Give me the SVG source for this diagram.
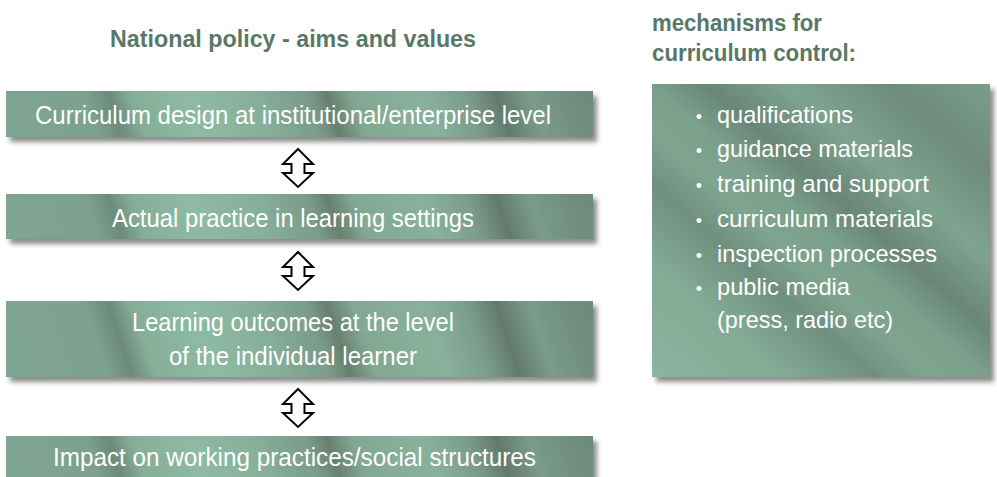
<svg xmlns="http://www.w3.org/2000/svg" width="997" height="477" viewBox="0 0 997 477">
  <defs>
    <linearGradient id="gBar" gradientUnits="userSpaceOnUse" x1="0" y1="0" x2="587" y2="-196">
      <stop offset="0" stop-color="#7ea591"/>
      <stop offset="0.12" stop-color="#7ca28e"/>
      <stop offset="0.155" stop-color="#6d8a7a"/>
      <stop offset="0.19" stop-color="#84ae98"/>
      <stop offset="0.28" stop-color="#8ebaa3"/>
      <stop offset="0.38" stop-color="#86af99"/>
      <stop offset="0.46" stop-color="#7a9b89"/>
      <stop offset="0.49" stop-color="#67806f"/>
      <stop offset="0.53" stop-color="#82a893"/>
      <stop offset="0.64" stop-color="#88b19c"/>
      <stop offset="0.705" stop-color="#7b9c8b"/>
      <stop offset="0.75" stop-color="#627a6c"/>
      <stop offset="0.8" stop-color="#7a9c89"/>
      <stop offset="0.86" stop-color="#718e7e"/>
      <stop offset="0.91" stop-color="#6c8878"/>
      <stop offset="1" stop-color="#6c8878"/>
    </linearGradient>
    <linearGradient id="gPanel" x1="0" y1="1" x2="1" y2="0">
      <stop offset="0" stop-color="#8ab59f"/>
      <stop offset="0.2" stop-color="#82aa95"/>
      <stop offset="0.33" stop-color="#70907f"/>
      <stop offset="0.42" stop-color="#7fa590"/>
      <stop offset="0.5" stop-color="#7a9f8b"/>
      <stop offset="0.58" stop-color="#6a8676"/>
      <stop offset="0.7" stop-color="#7ea490"/>
      <stop offset="0.85" stop-color="#6e8b7b"/>
      <stop offset="1" stop-color="#7a9e8a"/>
    </linearGradient>
    <filter id="shadow" x="-5%" y="-20%" width="115%" height="160%">
      <feDropShadow dx="4" dy="5" stdDeviation="2.5" flood-color="#000" flood-opacity="0.45"/>
    </filter>
  </defs>
  <style>
    .head { font-family: "Liberation Sans Narrow", "Liberation Sans", Arial, sans-serif; font-weight: bold; fill: #587867; font-size: 23px; }
    .bar { fill: url(#gBar); filter: url(#shadow); }
    .panel { fill: url(#gPanel); filter: url(#shadow); }
    .lbl { font-family: "Liberation Sans Narrow", "Liberation Sans", Arial, sans-serif; fill: #ffffff; font-size: 26px; text-anchor: middle; }
    .li { font-family: "Liberation Sans Narrow", "Liberation Sans", Arial, sans-serif; fill: #ffffff; font-size: 24px; }
    .bul { font-family: "Liberation Sans", Arial, sans-serif; fill: #ffffff; font-size: 18px; text-anchor: middle; }
    .arrow { fill: #ffffff; stroke: #000000; stroke-width: 2; stroke-linejoin: miter; }
  </style>
  <rect width="997" height="477" fill="#ffffff"/>

  <g id="title">
    <text class="head" x="293" y="47" text-anchor="middle" textLength="366" lengthAdjust="spacingAndGlyphs">National policy - aims and values</text>
  </g>

  <g id="node-design">
    <g transform="translate(6,91)">
      <rect class="bar" x="0" y="0" width="587" height="46"/>
    </g>
    <text class="lbl" x="293" y="124" textLength="516" lengthAdjust="spacingAndGlyphs">Curriculum design at institutional/enterprise level</text>
  </g>

  <g id="node-practice">
    <g transform="translate(6,194)">
      <rect class="bar" x="0" y="0" width="587" height="45"/>
    </g>
    <text class="lbl" x="293" y="227" textLength="362" lengthAdjust="spacingAndGlyphs">Actual practice in learning settings</text>
  </g>

  <g id="node-outcomes">
    <g transform="translate(6,301)">
      <rect class="bar" x="0" y="0" width="587" height="76"/>
    </g>
    <text class="lbl" x="293" y="331" textLength="322" lengthAdjust="spacingAndGlyphs">Learning outcomes at the level</text>
    <text class="lbl" x="293" y="365" textLength="248" lengthAdjust="spacingAndGlyphs">of the individual learner</text>
  </g>

  <g id="node-impact">
    <g transform="translate(6,436)">
      <rect class="bar" x="0" y="0" width="587" height="46"/>
    </g>
    <text class="lbl" x="294.5" y="466" textLength="483" lengthAdjust="spacingAndGlyphs">Impact on working practices/social structures</text>
  </g>

  <g id="node-mechanisms">
    <text class="head" x="652" y="31" textLength="170" lengthAdjust="spacingAndGlyphs">mechanisms for</text>
    <text class="head" x="652" y="61" textLength="204" lengthAdjust="spacingAndGlyphs">curriculum control:</text>
    <rect class="panel" x="652" y="84" width="338" height="293"/>
    <text class="bul" x="699" y="123">•</text>
    <text class="li" x="717" y="123" textLength="136" lengthAdjust="spacingAndGlyphs">qualifications</text>
    <text class="bul" x="699" y="157">•</text>
    <text class="li" x="717" y="157" textLength="196" lengthAdjust="spacingAndGlyphs">guidance materials</text>
    <text class="bul" x="699" y="192">•</text>
    <text class="li" x="717" y="192" textLength="212" lengthAdjust="spacingAndGlyphs">training and support</text>
    <text class="bul" x="699" y="227">•</text>
    <text class="li" x="717" y="227" textLength="216" lengthAdjust="spacingAndGlyphs">curriculum materials</text>
    <text class="bul" x="699" y="262">•</text>
    <text class="li" x="717" y="262" textLength="220" lengthAdjust="spacingAndGlyphs">inspection processes</text>
    <text class="bul" x="699" y="295">•</text>
    <text class="li" x="717" y="295" textLength="133" lengthAdjust="spacingAndGlyphs">public media</text>
    <text class="li" x="717" y="328" textLength="176" lengthAdjust="spacingAndGlyphs">(press, radio etc)</text>
  </g>

  <g id="connectors">
    <path class="arrow" transform="translate(298,149)" d="M0,0 L15,15 L6.5,15 L6.5,24 L15,24 L0,38 L-15,24 L-6.5,24 L-6.5,15 L-15,15 Z"/>
    <path class="arrow" transform="translate(298,252)" d="M0,0 L15,15 L6.5,15 L6.5,24 L15,24 L0,38 L-15,24 L-6.5,24 L-6.5,15 L-15,15 Z"/>
    <path class="arrow" transform="translate(298,389)" d="M0,0 L15,15 L6.5,15 L6.5,24 L15,24 L0,38 L-15,24 L-6.5,24 L-6.5,15 L-15,15 Z"/>
  </g>
</svg>
